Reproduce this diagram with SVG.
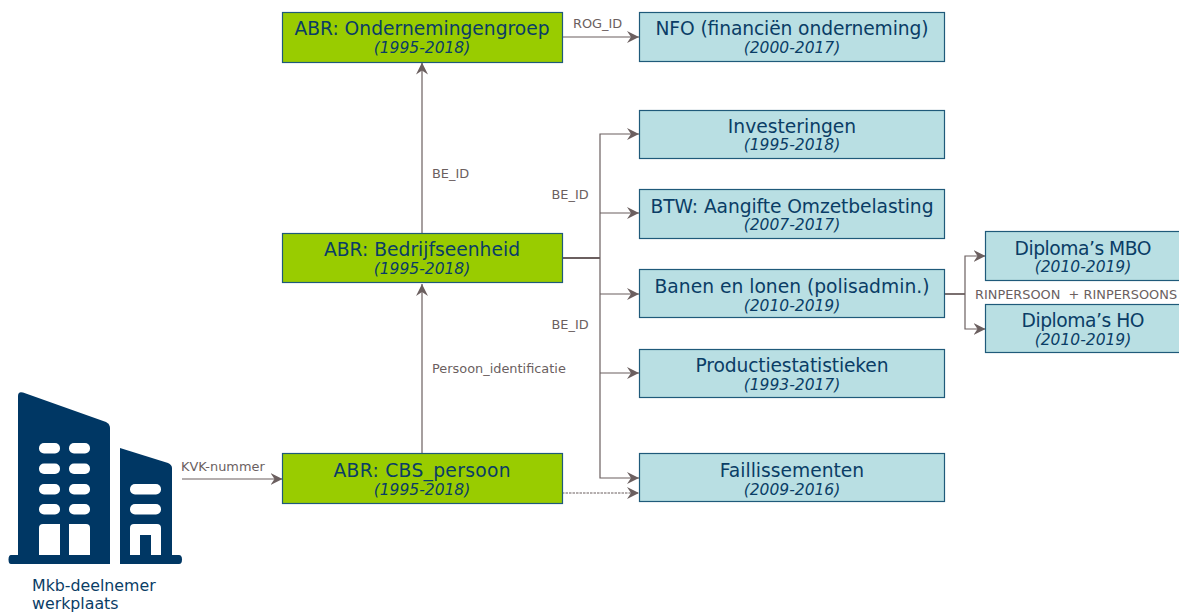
<svg xmlns="http://www.w3.org/2000/svg" width="1179" height="612" viewBox="0 0 1179 612">
<defs>
<marker id="arr" markerUnits="userSpaceOnUse" markerWidth="14" markerHeight="14" refX="12" refY="7" orient="auto">
<path d="M0 1 L12 7 L0 13 L4 7 Z" fill="#6b5f5f"/>
</marker>
</defs>
<style>
.g{fill:#99cc00;stroke:#1f5a7a;stroke-width:1.2}
.b{fill:#b9dfe3;stroke:#1f5a7a;stroke-width:1.2}
.t{font-family:"DejaVu Sans",Verdana,sans-serif;font-size:18.7px;fill:#0a3d66;text-anchor:middle}
.d{font-family:"DejaVu Sans",Verdana,sans-serif;font-size:15.5px;font-style:italic;fill:#0a3d66;text-anchor:middle}
.l{font-family:"DejaVu Sans",Verdana,sans-serif;font-size:12.9px;fill:#6b5f5f}
.m{font-family:"DejaVu Sans",Verdana,sans-serif;font-size:15.8px;fill:#0a3d66}
.c{fill:none;stroke:#6b5f5f;stroke-width:1.2}
.a{marker-end:url(#arr)}
.i{fill:#003764}
.w{fill:#fff}
</style>
<g id="connectors">
<path class="c a" d="M182 479H282.500"/>
<path class="c a" d="M422 453V284"/>
<path class="c a" d="M422 233V62.500"/>
<path class="c a" d="M562 37H639"/>
<path class="c" style="stroke-width:1.8" d="M562 258H600"/>
<path class="c a" d="M600 258V134H639"/>
<path class="c a" d="M600 213H639"/>
<path class="c a" d="M600 294H639"/>
<path class="c a" d="M600 373H639"/>
<path class="c a" d="M600 258V478H639"/>
<path class="c a" d="M562 493H639" stroke-dasharray="2.500 1"/>
<path class="c" style="stroke-width:1.8" d="M945 294H965"/>
<path class="c a" d="M965 294V256H985.500"/>
<path class="c a" d="M965 294V329H985.500"/>
</g>
<g id="labels" class="l">
<text x="181" y="471">KVK-nummer</text>
<text x="432" y="178">BE_ID</text>
<text x="432" y="373">Persoon_identificatie</text>
<text x="573" y="28">ROG_ID</text>
<text x="551.500" y="199">BE_ID</text>
<text x="551.500" y="329">BE_ID</text>
<text x="975" y="299" xml:space="preserve" style="white-space:pre">RINPERSOON  + RINPERSOONS</text>
</g>
<g id="building">
<path class="i" d="M18 396Q18 391 23 392.500L106 422Q110 424 110 428V555H18Z"/>
<path class="i" d="M120 448L168 463Q172 465 172 468V555H120Z"/>
<path class="i" d="M11 555H110V564H11Q8.500 564 8.500 559.500Q8.500 555 11 555Z"/>
<path class="i" d="M120 555H179Q182 555 182 559.500Q182 564 179 564H120Z"/>
<g class="w">
<rect x="39" y="443" width="21" height="10.500" rx="5"/><rect x="69" y="443" width="21" height="10.500" rx="5"/>
<rect x="39" y="463.500" width="21" height="10.500" rx="5"/><rect x="69" y="463.500" width="21" height="10.500" rx="5"/>
<rect x="39" y="484" width="21" height="10.500" rx="5"/><rect x="69" y="484" width="21" height="10.500" rx="5"/>
<rect x="39" y="504" width="21" height="10.500" rx="5"/><rect x="69" y="504" width="21" height="10.500" rx="5"/>
<path d="M39 555V528Q39 524 43 524H60V555Z"/>
<path d="M69 555V524H86Q90 524 90 528V555Z"/>
<rect x="130" y="484" width="31" height="10.500" rx="5"/>
<rect x="130" y="504" width="31" height="10.500" rx="5"/>
<path fill-rule="evenodd" d="M130 555V528Q130 524 134 524H157Q161 524 161 528V555H151V535H140V555Z"/>
</g>
<text class="m" x="32" y="591">Mkb-deelnemer</text>
<text class="m" x="32" y="609">werkplaats</text>
</g>
<g id="n1"><rect class="g" x="282.500" y="12.500" width="280" height="50"/><text class="t" x="422" y="35">ABR: Ondernemingengroep</text><text class="d" x="422" y="53">(1995-2018)</text></g>
<g id="n2"><rect class="g" x="282.500" y="233.500" width="280" height="49"/><text class="t" x="422" y="256">ABR: Bedrijfseenheid</text><text class="d" x="422" y="274">(1995-2018)</text></g>
<g id="n3"><rect class="g" x="282.500" y="453.500" width="280" height="50"/><text class="t" x="422" y="477" textLength="177">ABR: CBS_persoon</text><text class="d" x="422" y="495">(1995-2018)</text></g>
<g id="n4"><rect class="b" x="639.500" y="12.500" width="305" height="49"/><text class="t" x="792" y="35" textLength="273">NFO (financiën onderneming)</text><text class="d" x="792" y="53">(2000-2017)</text></g>
<g id="n5"><rect class="b" x="639.500" y="110.500" width="305" height="48"/><text class="t" x="792" y="133">Investeringen</text><text class="d" x="792" y="150">(1995-2018)</text></g>
<g id="n6"><rect class="b" x="639.500" y="189.500" width="305" height="49"/><text class="t" x="792" y="213" textLength="283">BTW: Aangifte Omzetbelasting</text><text class="d" x="792" y="230">(2007-2017)</text></g>
<g id="n7"><rect class="b" x="639.500" y="269.500" width="305" height="48"/><text class="t" x="792" y="293">Banen en lonen (polisadmin.)</text><text class="d" x="792" y="311">(2010-2019)</text></g>
<g id="n8"><rect class="b" x="639.500" y="349.500" width="305" height="48"/><text class="t" x="792" y="372" textLength="193">Productiestatistieken</text><text class="d" x="792" y="390">(1993-2017)</text></g>
<g id="n9"><rect class="b" x="639.500" y="453.500" width="305" height="48"/><text class="t" x="792" y="477">Faillissementen</text><text class="d" x="792" y="495">(2009-2016)</text></g>
<g id="n10"><rect class="b" x="985.500" y="231.500" width="200" height="49"/><text class="t" x="1083" y="255" textLength="137">Diploma’s MBO</text><text class="d" x="1083" y="272">(2010-2019)</text></g>
<g id="n11"><rect class="b" x="985.500" y="304.500" width="200" height="48"/><text class="t" x="1083" y="327" textLength="123">Diploma’s HO</text><text class="d" x="1083" y="345">(2010-2019)</text></g>
</svg>
